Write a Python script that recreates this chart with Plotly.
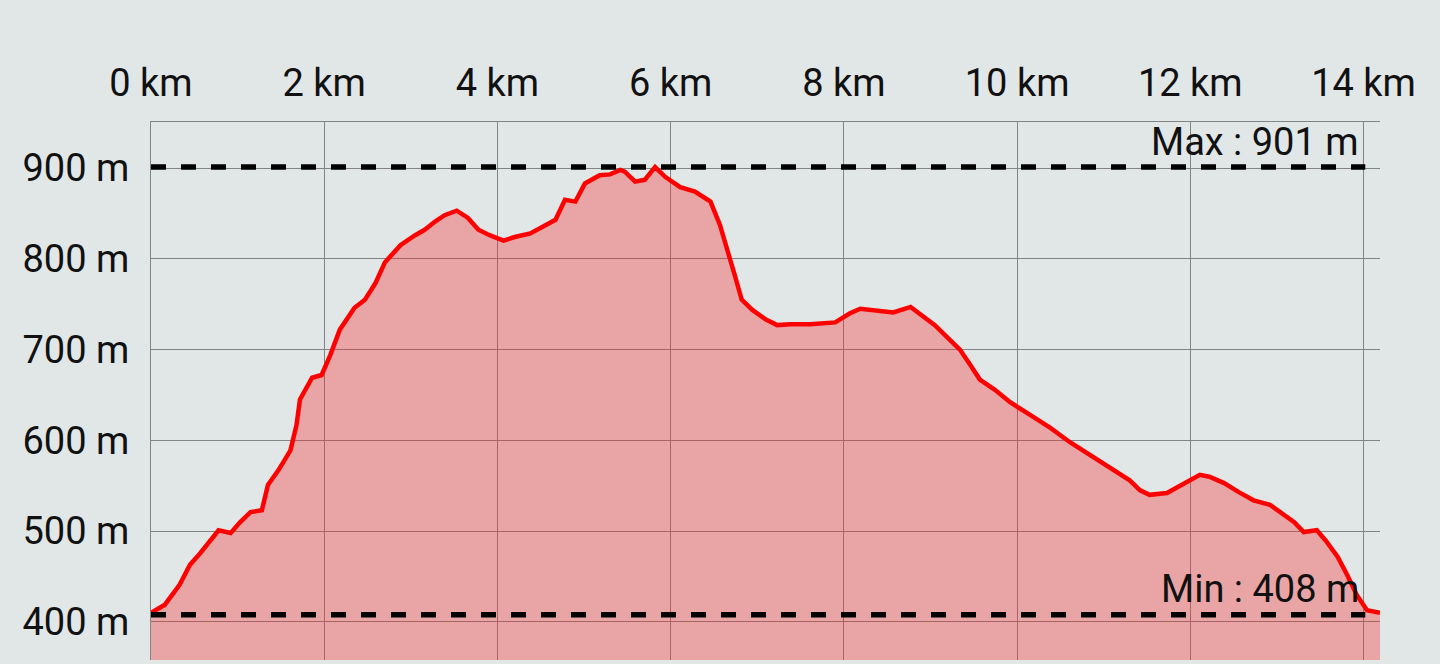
import plotly.graph_objects as go

distance_km = [0.00, 0.16, 0.33, 0.45, 0.57, 0.68, 0.78, 0.92, 1.03, 1.15, 1.28, 1.35, 1.47,
               1.61, 1.68, 1.72, 1.86, 1.97, 2.07, 2.18, 2.35, 2.47, 2.59, 2.70, 2.88,
               3.05, 3.16, 3.28, 3.39, 3.53, 3.66, 3.78, 3.91, 4.07, 4.20, 4.38, 4.55,
               4.67, 4.78, 4.90, 5.01, 5.18, 5.30, 5.42, 5.47, 5.59, 5.70, 5.82, 5.94,
               6.11, 6.28, 6.46, 6.57, 6.66, 6.74, 6.82, 6.94, 7.10, 7.23, 7.38, 7.61,
               7.90, 8.07, 8.19, 8.42, 8.57, 8.77, 8.88, 9.05, 9.20, 9.34, 9.46, 9.57,
               9.74, 9.92, 10.15, 10.38, 10.61, 10.84, 11.07, 11.30, 11.42, 11.53, 11.73,
               11.91, 12.11, 12.22, 12.39, 12.56, 12.73, 12.92, 13.03, 13.20, 13.31,
               13.46, 13.56, 13.70, 13.81, 13.92, 14.04, 14.19]
elevation_m = [410, 419, 441, 463, 476, 490, 501, 498, 510, 521, 523, 551, 567,
               589, 617, 645, 669, 672, 694, 722, 746, 755, 773, 796, 815,
               826, 832, 841, 848, 853, 845, 832, 826, 820, 824, 828, 837,
               843, 865, 863, 883, 892, 893, 898, 896, 885, 887, 901, 890,
               879, 874, 863, 837, 810, 782, 755, 744, 733, 727, 728, 728,
               730, 740, 745, 743, 741, 747, 739, 727, 713, 700, 683, 667,
               656, 642, 628, 614, 598, 584, 570, 556, 545, 540, 542,
               551, 562, 560, 553, 543, 534, 529, 521, 510, 499,
               501, 490, 472, 452, 430, 413, 410]

max_elev = 901
min_elev = 408
x_ticks = [0, 2, 4, 6, 8, 10, 12, 14]
y_ticks = [400, 500, 600, 700, 800, 900]

BG = "#e1e6e7"
FONT = "Roboto"
GRID = "#808486"

fig = go.Figure()
fig.add_trace(go.Scatter(
    x=distance_km, y=elevation_m, mode="lines",
    line=dict(color="#ff0000", width=4.5),
    fill="tozeroy", fillcolor="rgba(250,40,40,0.34)",
    hoverinfo="skip", showlegend=False,
))

for v in (max_elev, min_elev):
    fig.add_shape(type="line", xref="x", yref="y", x0=0, x1=14.02, y0=v, y1=v,
                  line=dict(color="black", width=5.5, dash="15px,15px"), layer="above")

fig.add_annotation(x=13.97, y=max_elev, xref="x", yref="y", text=f"Max : {max_elev} m",
                   showarrow=False, xanchor="right", yanchor="middle", yshift=25,
                   font=dict(family=FONT, size=38, color="#111111"))
fig.add_annotation(x=13.97, y=min_elev, xref="x", yref="y", text=f"Min : {min_elev} m",
                   showarrow=False, xanchor="right", yanchor="middle", yshift=26,
                   font=dict(family=FONT, size=38, color="#111111"))

fig.update_layout(
    width=1440, height=664,
    margin=dict(l=151, r=60, t=122, b=4),
    paper_bgcolor=BG, plot_bgcolor=BG,
    font=dict(family=FONT, size=38, color="#111111"),
    xaxis=dict(range=[0, 14.19], side="top", tickvals=x_ticks,
               ticktext=[f"{v} km" for v in x_ticks],
               showgrid=True, gridcolor=GRID, gridwidth=1.3,
               showline=True, linecolor=GRID, linewidth=1.3,
               ticks="outside", ticklen=10, tickcolor="rgba(0,0,0,0)",
               zeroline=False),
    yaxis=dict(range=[358.1, 950.7], tickvals=y_ticks,
               ticktext=[f"{v} m" for v in y_ticks],
               showgrid=True, gridcolor=GRID, gridwidth=1.3,
               showline=True, linecolor=GRID, linewidth=1.3,
               ticks="outside", ticklen=13, tickcolor="rgba(0,0,0,0)",
               zeroline=False),
)

fig.write_html(
    "out.html",
    config={"displayModeBar": False},
    post_script="document.body.style.margin='0';document.body.style.overflow='hidden';"
                "document.body.style.background='" + BG + "';",
)
